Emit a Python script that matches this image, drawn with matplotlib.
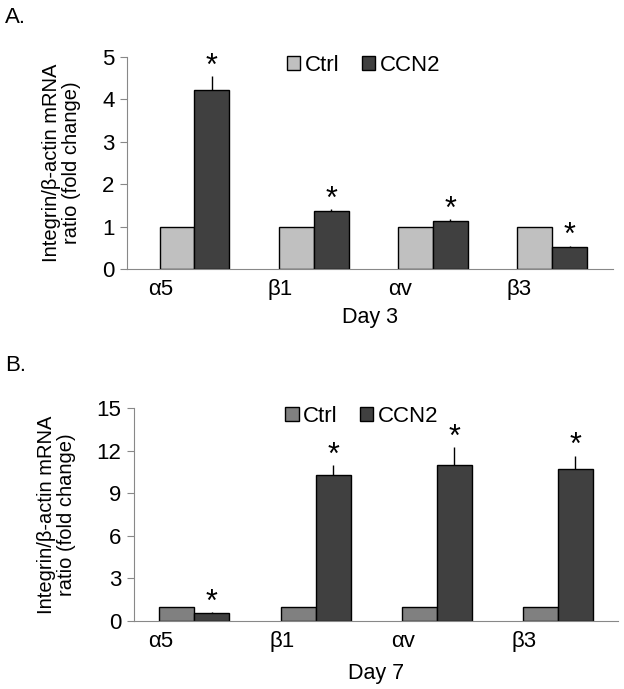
import matplotlib
matplotlib.use("Agg")
import matplotlib.pyplot as plt
import numpy as np

plt.rcParams['font.family'] = ['Liberation Sans', 'DejaVu Sans']

genes = ["α5", "β1", "αv", "β3"]
groups = ["Ctrl", "CCN2"]

# Day 3
d3_ctrl = [1.0, 1.0, 1.0, 1.0]
d3_ccn2 = [4.22, 1.37, 1.13, 0.52]
d3_err = [0.32, 0.04, 0.04, 0.03]

# Day 7
d7_ctrl = [1.0, 1.0, 1.0, 1.0]
d7_ccn2 = [0.54, 10.28, 10.96, 10.68]
d7_err = [0.08, 0.70, 1.27, 0.96]

fig = plt.figure(figsize=(6.24, 6.89), dpi=100)


def panel(rect, ctrl, ccn2, err, ctrl_color, yticks, xlim, width, xlabel, xpad, legend_xy):
    ax = fig.add_axes(rect)
    x = np.arange(len(genes))
    ax.bar(x - width / 2, ctrl, width, color=ctrl_color, edgecolor='black',
           linewidth=1, label=groups[0], zorder=2)
    ax.bar(x + width / 2, ccn2, width, color='#404040', edgecolor='black',
           linewidth=1, label=groups[1], zorder=2)
    ax.errorbar(x + width / 2, ccn2, yerr=[np.zeros(len(err)), err], fmt='none',
                ecolor='black', elinewidth=1, capsize=0, zorder=3)
    for xi, v, e in zip(x, ccn2, err):
        ax.annotate('*', (xi + width / 2, v + e), xytext=(0, -4), textcoords='offset points',
                    ha='center', va='bottom', fontsize=22)
    ax.set_ylim(yticks[0], yticks[-1])
    ax.set_yticks(yticks)
    ax.set_xlim(*xlim)
    ax.set_xticks(x - 0.28)
    ax.set_xticklabels(genes)
    ax.tick_params(axis='x', length=0, pad=7, labelsize=16)
    ax.tick_params(axis='y', length=5, color='#888888', labelsize=16, pad=4)
    for s in ['top', 'right']:
        ax.spines[s].set_visible(False)
    for s in ['left', 'bottom']:
        ax.spines[s].set_color('#888888')
    ax.set_xlabel(xlabel, fontsize=15.5, labelpad=xpad)
    ax.set_ylabel("Integrin/β-actin mRNA\nratio (fold change)", fontsize=14.5,
                  labelpad=15, linespacing=1.05)
    ax.legend(loc='upper center', bbox_to_anchor=legend_xy, ncol=2, frameon=False,
              fontsize=16, handlelength=0.6, handleheight=0.6, handletextpad=0.2,
              columnspacing=1.0, borderaxespad=0)
    return ax


panel([0.2035, 0.6096, 0.7785, 0.3077], d3_ctrl, d3_ccn2, d3_err, '#c0c0c0',
      [0, 1, 2, 3, 4, 5], (-0.566, 3.508), 0.293, "Day 3", 5, (0.487, 1.05))
panel([0.2147, 0.0987, 0.7753, 0.3091], d7_ctrl, d7_ccn2, d7_err, '#808080',
      [0, 3, 6, 9, 12, 15], (-0.499, 3.494), 0.289, "Day 7", 8, (0.471, 1.05))

fig.text(0.008, 0.975, "A.", fontsize=16, va='center')
fig.text(0.008, 0.47, "B.", fontsize=16, va='center')

fig.savefig("out.png", dpi=100)
